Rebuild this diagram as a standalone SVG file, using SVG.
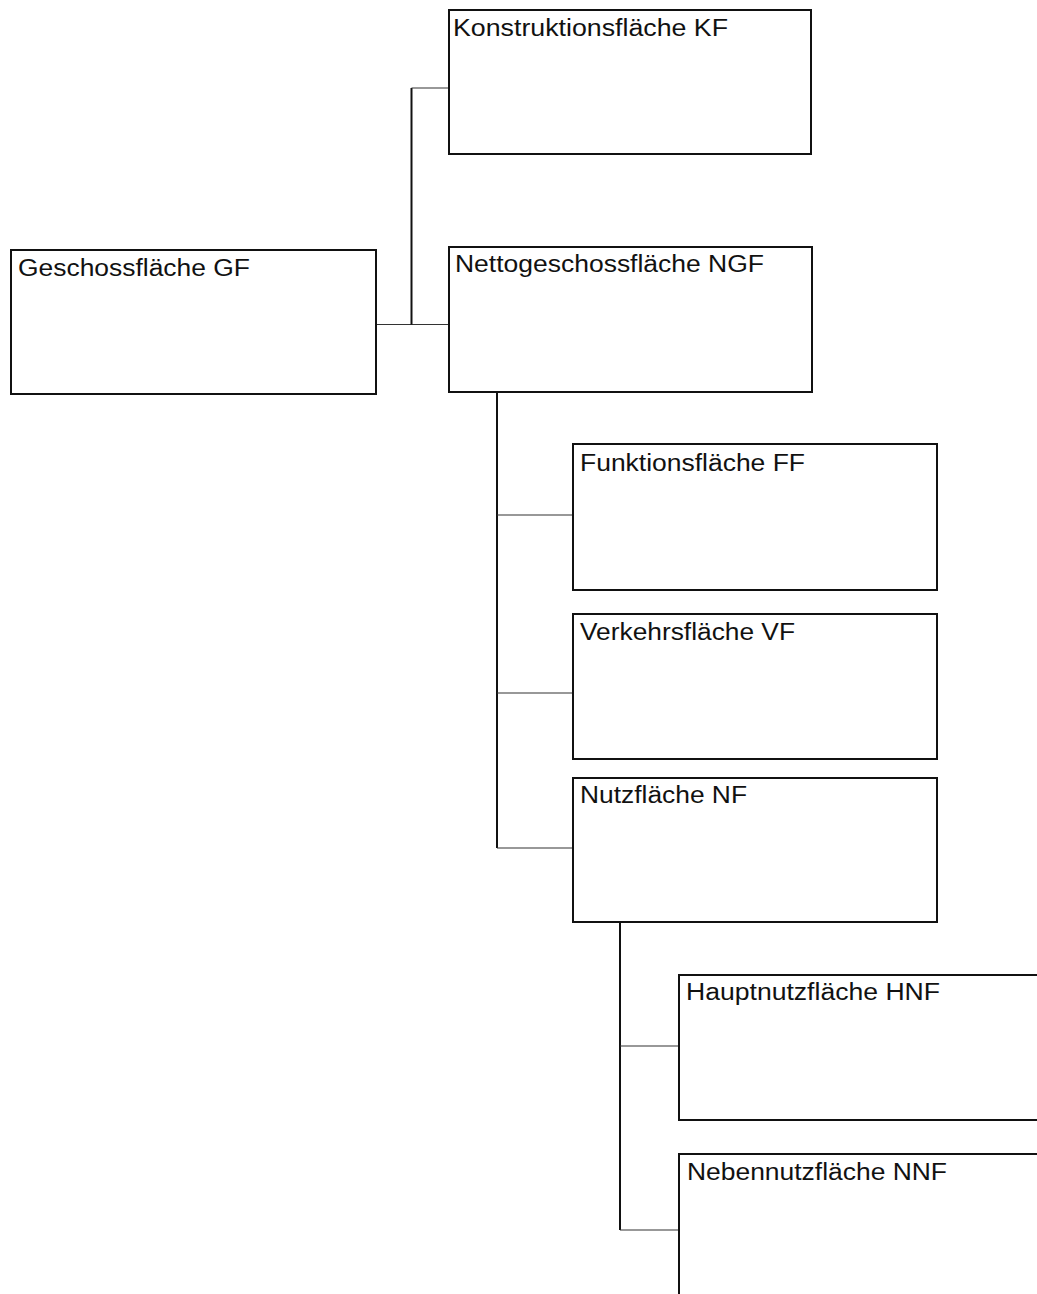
<svg xmlns="http://www.w3.org/2000/svg" width="1037" height="1294" viewBox="0 0 1037 1294">
<style>
.box{fill:#fff;stroke:#111;stroke-width:2}
.lbl{font-family:"Liberation Sans",Arial,sans-serif;font-size:23px;fill:#111}
.v{stroke:#111;stroke-width:2;fill:none}
.h{stroke:#333;stroke-width:1.2;fill:none}
</style>
<rect width="1037" height="1294" fill="#fff"/>
<g id="connectors">
<line class="h" x1="376" y1="324.5" x2="449" y2="324.5"/>
<line class="v" x1="411.5" y1="88" x2="411.5" y2="324.5"/>
<line class="h" x1="411.5" y1="88" x2="449" y2="88"/>
<line class="v" x1="497" y1="392" x2="497" y2="848"/>
<line class="h" x1="497" y1="515" x2="573" y2="515"/>
<line class="h" x1="497" y1="693" x2="573" y2="693"/>
<line class="h" x1="497" y1="848" x2="573" y2="848"/>
<line class="v" x1="620" y1="922" x2="620" y2="1230"/>
<line class="h" x1="620" y1="1046" x2="679" y2="1046"/>
<line class="h" x1="620" y1="1230" x2="679" y2="1230"/>
</g>
<g id="node-gf">
<rect class="box" x="11" y="250" width="365" height="144"/>
<text class="lbl" x="18" y="276" textLength="232" lengthAdjust="spacingAndGlyphs">Geschossfläche GF</text>
</g>
<g id="node-kf">
<rect class="box" x="449" y="10" width="362" height="144"/>
<text class="lbl" x="453" y="36" textLength="275" lengthAdjust="spacingAndGlyphs">Konstruktionsfläche KF</text>
</g>
<g id="node-ngf">
<rect class="box" x="449" y="247" width="363" height="145"/>
<text class="lbl" x="455" y="272" textLength="309" lengthAdjust="spacingAndGlyphs">Nettogeschossfläche NGF</text>
</g>
<g id="node-ff">
<rect class="box" x="573" y="444" width="364" height="146"/>
<text class="lbl" x="580" y="471" textLength="225" lengthAdjust="spacingAndGlyphs">Funktionsfläche FF</text>
</g>
<g id="node-vf">
<rect class="box" x="573" y="614" width="364" height="145"/>
<text class="lbl" x="580" y="640" textLength="215" lengthAdjust="spacingAndGlyphs">Verkehrsfläche VF</text>
</g>
<g id="node-nf">
<rect class="box" x="573" y="778" width="364" height="144"/>
<text class="lbl" x="580" y="803" textLength="167" lengthAdjust="spacingAndGlyphs">Nutzfläche NF</text>
</g>
<g id="node-hnf">
<rect class="box" x="679" y="975" width="370" height="145"/>
<text class="lbl" x="686" y="1000" textLength="254" lengthAdjust="spacingAndGlyphs">Hauptnutzfläche HNF</text>
</g>
<g id="node-nnf">
<rect class="box" x="679" y="1154" width="370" height="160"/>
<text class="lbl" x="687" y="1180" textLength="260" lengthAdjust="spacingAndGlyphs">Nebennutzfläche NNF</text>
</g>
</svg>
